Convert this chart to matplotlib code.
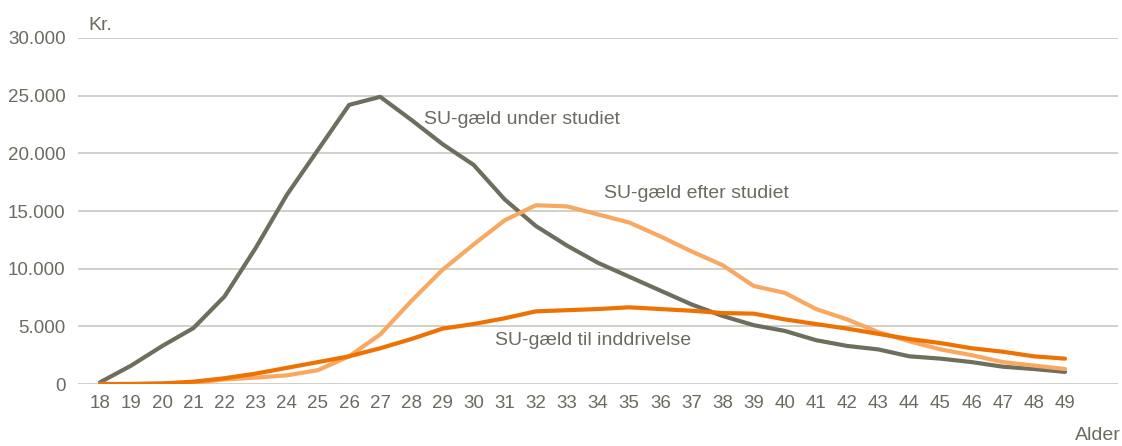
import numpy as np
import matplotlib.pyplot as plt

plt.rcParams['font.family'] = ['Liberation Sans Narrow', 'Liberation Sans', 'DejaVu Sans']

alder = list(range(18, 50))
under_studiet = [150, 1600, 3300, 4850, 7600, 11800, 16400, 20300, 24200, 24900,
                 22900, 20800, 19000, 16000, 13700, 12000, 10500, 9300, 8100, 6900,
                 5900, 5100, 4600, 3800, 3300, 3000, 2400, 2200, 1900, 1500, 1300, 1050]
efter_studiet = [0, 0, 30, 100, 400, 550, 750, 1200, 2400, 4300,
                 7200, 9900, 12100, 14200, 15500, 15400, 14700, 14000, 12800, 11500,
                 10300, 8500, 7900, 6500, 5600, 4500, 3700, 3000, 2500, 1900, 1600, 1300]
inddrivelse = [0, 0, 50, 200, 500, 900, 1400, 1900, 2400, 3100,
               3900, 4800, 5200, 5700, 6300, 6400, 6500, 6650, 6500, 6350,
               6150, 6100, 5600, 5200, 4800, 4350, 3900, 3550, 3100, 2800, 2400, 2200]

grey = '#6E6E5E'
light_orange = '#F8A860'
dark_orange = '#EE7203'
text_col = '#6B6B60'

fig = plt.figure(figsize=(11.22, 4.46), dpi=100)
ax = fig.add_axes([0.0695, 0.139, 0.9269, 0.7758])

ax.plot(alder, under_studiet, color=grey, lw=3.0, solid_capstyle='round', zorder=3)
ax.plot(alder, efter_studiet, color=light_orange, lw=3.0, solid_capstyle='round', zorder=4)
ax.plot(alder, inddrivelse, color=dark_orange, lw=3.0, solid_capstyle='round', zorder=5)

ax.set_ylim(0, 30000)
ax.set_xlim(17.29, 50.7)
ax.set_yticks(range(0, 30001, 5000))
ax.set_yticklabels([f'{v:,}'.replace(',', '.') for v in range(0, 30001, 5000)])
ax.set_xticks(alder)
ax.grid(axis='y', color='#C8C8C0', lw=1.2, zorder=0)
for s in ax.spines.values():
    s.set_visible(False)
ax.tick_params(length=0, labelsize=13.5, colors=text_col, pad=8)
ax.tick_params(axis='y', pad=9)

ax.text(28.4, 22900, 'SU-gæld under studiet', color=text_col, fontsize=14, va='center')
ax.text(34.2, 16560, 'SU-gæld efter studiet', color=text_col, fontsize=14, va='center')
ax.text(30.7, 3800, 'SU-gæld til inddrivelse', color=text_col, fontsize=14, va='center')

fig.text(88 / 1122, 1 - 25 / 446, 'Kr.', color=text_col, fontsize=14, va='center')
fig.text(1121 / 1122, 1 - 435 / 446, 'Alder', color=text_col, fontsize=14, va='center', ha='right')

fig.savefig('out.png', dpi=100, facecolor='white')
